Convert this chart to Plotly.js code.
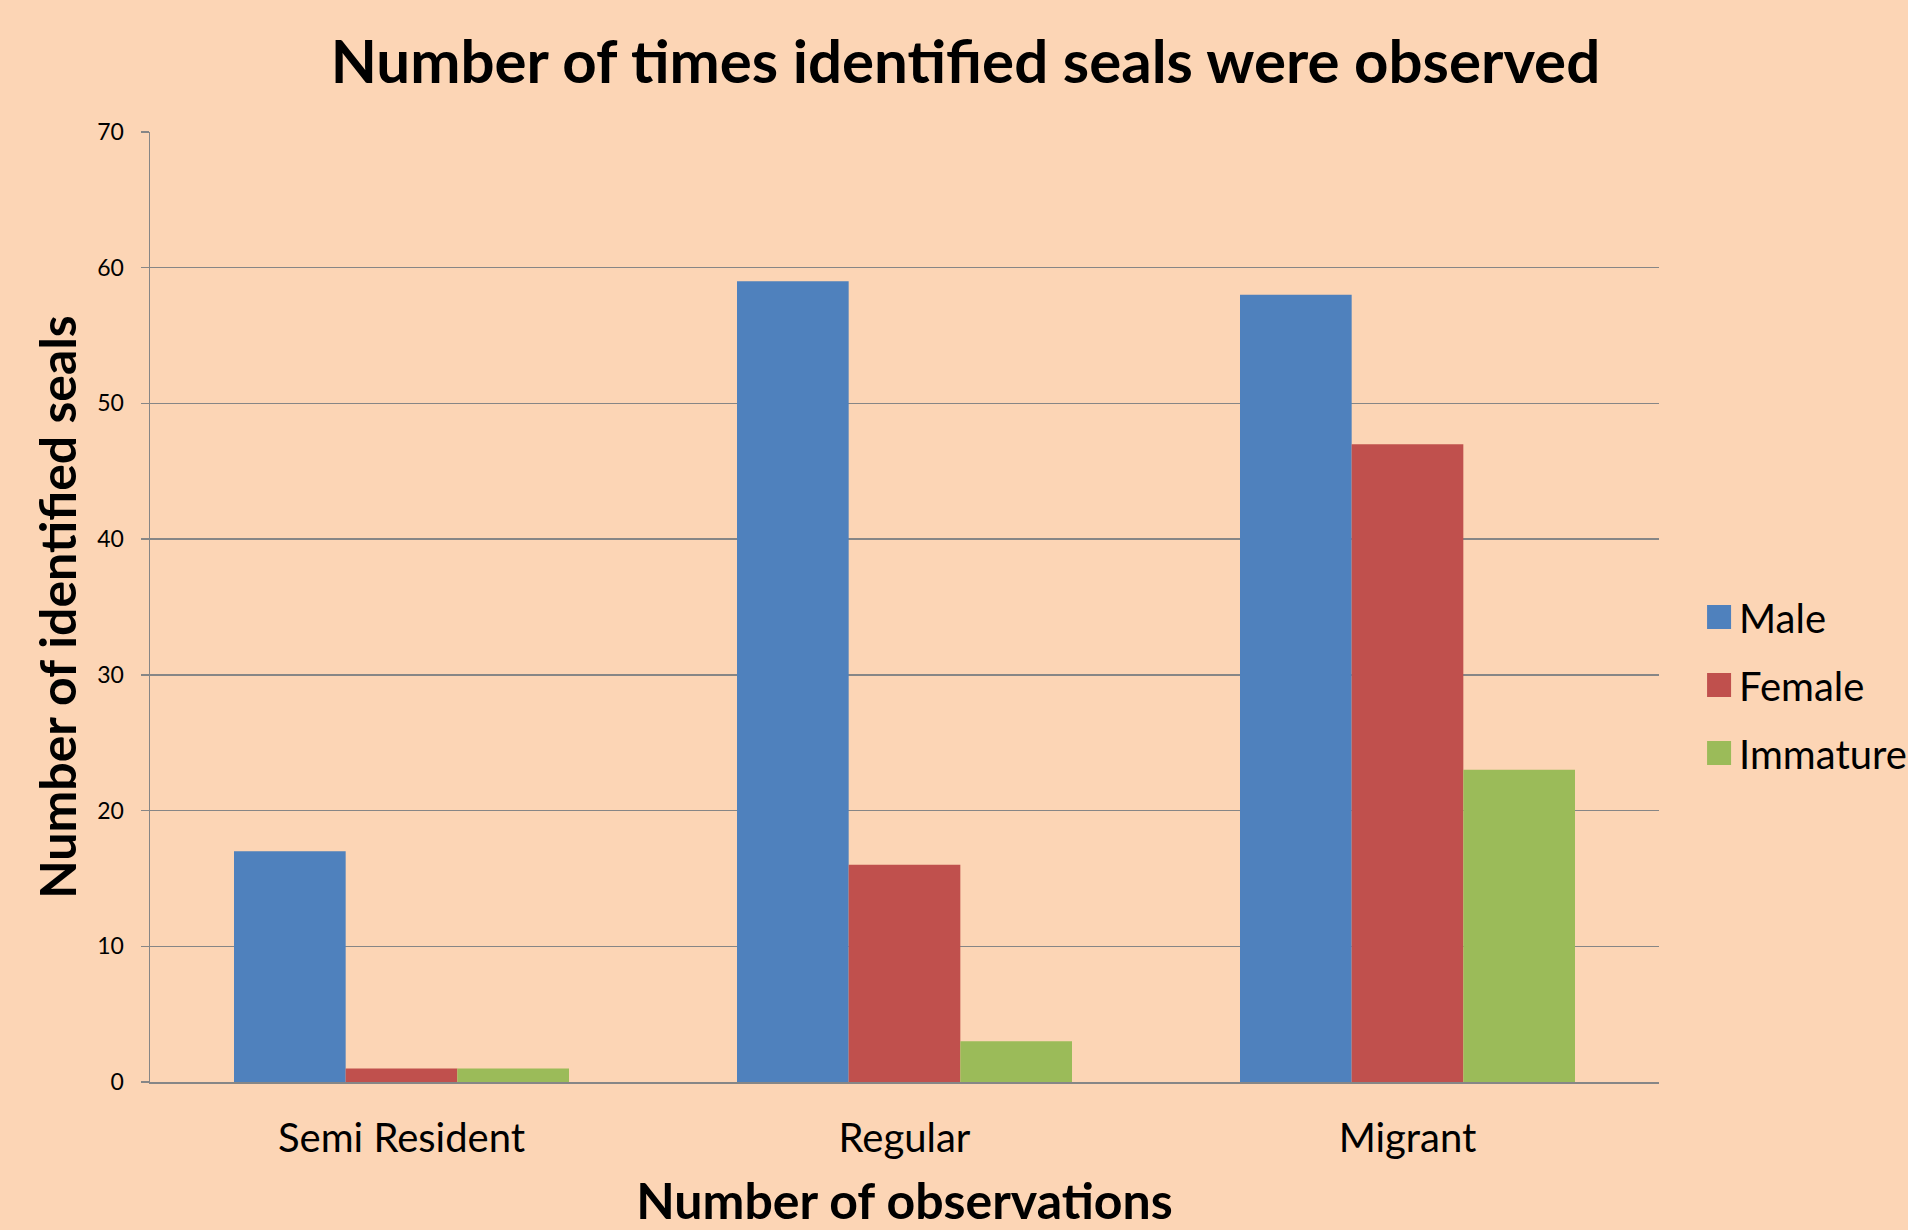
<!DOCTYPE html>
<html>
<head>
<meta charset="utf-8">
<script src="https://cdn.plot.ly/plotly-3.0.1.min.js"></script>
<style>html,body{margin:0;padding:0;background:#FCD5B5;}#chart{width:1908px;height:1230px;}</style>
</head>
<body>
<div id="chart"></div>
<script>
const categories = ["Semi Resident", "Regular", "Migrant"];
const seriesNames = ["Male", "Female", "Immature"];
const male = [17, 59, 58];
const female = [1, 16, 47];
const immature = [1, 3, 23];
const colors = ["#4F81BD", "#C0504D", "#9BBB59"];
const yTicks = [0, 10, 20, 30, 40, 50, 60, 70];

const FONT = "Lato, 'Open Sans', sans-serif";
const values = [male, female, immature];
const traces = values.map((v, i) => ({
  type: "bar",
  name: seriesNames[i],
  legendgroup: "g" + i,
  x: categories,
  y: v,
  marker: {color: colors[i], line: {width: 0}},
  hoverinfo: "x+y+name"
}));

const layout = {
  width: 1908,
  height: 1230,
  paper_bgcolor: "#FCD5B5",
  plot_bgcolor: "#FCD5B5",
  margin: {l: 150, r: 249, t: 132, b: 148, pad: 0},
  barmode: "group",
  bargap: 0.334,
  bargroupgap: 0,
  title: {
    text: "<b>Number of times identified seals were observed</b>",
    font: {family: FONT, size: 60, color: "#000"},
    x: 0.506, xanchor: "center", xref: "container",
    y: 0.950, yref: "container", yanchor: "middle"
  },
  xaxis: {
    type: "category",
    showgrid: false,
    showline: true,
    linecolor: "#868686",
    linewidth: 1.5,
    ticks: "",
    tickfont: {family: FONT, size: 40, color: "#000"},
    ticklabelstandoff: 20,
    title: {
      text: "<b>Number of observations</b>",
      font: {family: FONT, size: 50, color: "#000"},
      standoff: 33
    }
  },
  yaxis: {
    range: [0, 70],
    tickvals: yTicks,
    ticktext: yTicks.map(String),
    showgrid: true,
    gridcolor: "#868686",
    gridwidth: 1.5,
    showline: true,
    linecolor: "#868686",
    linewidth: 1.5,
    ticks: "outside",
    ticklen: 8,
    tickcolor: "#868686",
    tickwidth: 1.5,
    tickfont: {family: FONT, size: 23, color: "#000"},
    ticklabelstandoff: 12,
    zeroline: false,
    title: {
      text: "<b>Number of identified seals</b>",
      font: {family: FONT, size: 50, color: "#000"},
      standoff: 4
    }
  },
  legend: {
    x: 0.8905, xref: "container",
    y: 0.443, yref: "container", yanchor: "middle",
    xanchor: "left",
    bgcolor: "rgba(0,0,0,0)",
    font: {family: FONT, size: 40, color: "#000"},
    tracegroupgap: 13,
    traceorder: "grouped"
  },
  showlegend: true
};

Plotly.newPlot("chart", traces, layout, {displayModeBar: false, staticPlot: true}).then(gd => {
  gd.querySelectorAll(".legend .legendpoints path").forEach(p => {
    const t = p.getAttribute("transform") || "";
    p.setAttribute("transform", t + " scale(2)");
  });
});
</script>
</body>
</html>
